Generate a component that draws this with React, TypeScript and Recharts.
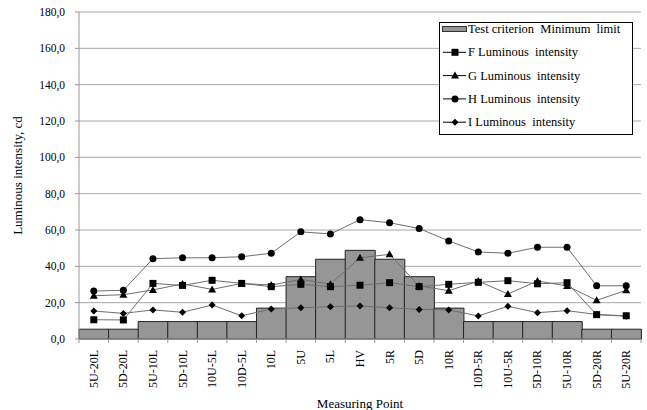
import { ComposedChart, Bar, Line, XAxis, YAxis, CartesianGrid } from 'recharts'

const categories = ['5U-20L', '5D-20L', '5U-10L', '5D-10L', '10U-5L', '10D-5L', '10L', '5U', '5L', 'HV', '5R', '5D', '10R', '10D-5R', '10U-5R', '5D-10R', '5U-10R', '5D-20R', '5U-20R']
const minLimit = [5.4, 5.4, 9.6, 9.6, 9.6, 9.6, 17, 34.3, 43.9, 48.8, 43.9, 34.3, 17, 9.6, 9.6, 9.6, 9.6, 5.4, 5.4]
const fValues = [10.6, 10.5, 30.6, 29.5, 32.3, 30.6, 28.8, 30.1, 28.8, 29.6, 31, 28.8, 30.1, 31.2, 32.1, 30.4, 31, 13.4, 12.8]
const gValues = [23.8, 24.4, 27, 30.3, 27.3, 30.6, 29.7, 32.8, 30.2, 44.7, 46.6, 29.2, 26.6, 31.9, 24.8, 31.9, 29.2, 21.3, 26.8]
const hValues = [26.4, 26.8, 44.2, 44.7, 44.7, 45.3, 47.2, 59, 57.8, 65.7, 64, 60.8, 54, 47.9, 47.2, 50.5, 50.5, 29.3, 29.3]
const iValues = [15.4, 14.1, 16, 14.7, 18.7, 12.8, 16.5, 17.2, 17.8, 18.2, 17.2, 16.3, 16, 12.7, 18, 14.5, 15.6, 13.5, 12.5]
const yTicks = [0, 20, 40, 60, 80, 100, 120, 140, 160, 180]

const data = categories.map((c, i) => ({
  name: c,
  limit: minLimit[i],
  f: fValues[i],
  g: gValues[i],
  h: hValues[i],
  i: iValues[i],
}))

const FONT = '"Liberation Serif", serif'
const LINE = '#6e6e6e'
const PLOT_LEFT = 79
const PLOT_RIGHT = 641
const STEP = (PLOT_RIGHT - PLOT_LEFT) / categories.length

type Kind = 'square' | 'triangle' | 'circle' | 'diamond'

function marker(kind: Kind, cx: number, cy: number, key?: any) {
  if (kind === 'square') return <rect key={key} x={cx - 3.5} y={cy - 3.5} width={7} height={7} fill="#000" />
  if (kind === 'triangle') return <polygon key={key} points={`${cx},${cy - 4} ${cx + 4},${cy + 3} ${cx - 4},${cy + 3}`} fill="#000" />
  if (kind === 'circle') return <circle key={key} cx={cx} cy={cy} r={3.5} fill="#000" />
  return <polygon key={key} points={`${cx},${cy - 3.5} ${cx + 3.5},${cy} ${cx},${cy + 3.5} ${cx - 3.5},${cy}`} fill="#000" />
}

const dotOf = (kind: Kind) => (p: any) => marker(kind, p.cx, p.cy, p.index)

function XTick(props: any) {
  const { x, y, payload, index } = props
  return (
    <g>
      <line x1={x - STEP / 2} y1={y - 8} x2={x - STEP / 2} y2={y - 4} stroke="#999" />
      {index === categories.length - 1 && <line x1={x + STEP / 2} y1={y - 8} x2={x + STEP / 2} y2={y - 4} stroke="#999" />}
      <text transform={`translate(${x + 4},${y + 3}) rotate(-90)`} textAnchor="end" fontSize={12} style={{ fontFamily: FONT }} fill="#000">
        {payload.value}
      </text>
    </g>
  )
}

const legendItems: { label: string; kind: Kind | 'bar' }[] = [
  { label: 'Test criterion  Minimum  limit', kind: 'bar' },
  { label: 'F Luminous  intensity', kind: 'square' },
  { label: 'G Luminous  intensity', kind: 'triangle' },
  { label: 'H Luminous  intensity', kind: 'circle' },
  { label: 'I Luminous  intensity', kind: 'diamond' },
]

function LegendBox() {
  return (
    <svg width={194} height={113} style={{ display: 'block' }}>
      <rect x={0.5} y={0.5} width={193} height={112} fill="#fff" stroke="#000" />
      {legendItems.map((it, k) => {
        const cy = 7 + k * 23.3
        return (
          <g key={it.label}>
            {it.kind === 'bar' ? (
              <rect x={3.5} y={cy - 2.5} width={24} height={5} fill="#969696" stroke="#333" />
            ) : (
              <>
                <line x1={4} y1={cy} x2={27} y2={cy} stroke="#000" />
                {marker(it.kind, 16, cy)}
              </>
            )}
            <text x={29} y={cy + 4} fontSize={12.5} fill="#000" style={{ whiteSpace: 'pre', fontFamily: FONT }}>
              {it.label}
            </text>
          </g>
        )
      })}
    </svg>
  )
}

export default function App() {
  return (
    <div style={{ position: 'absolute', left: 0, top: 0, width: 647, height: 410, background: '#fff', fontFamily: FONT }}>
      <ComposedChart width={647} height={410} data={data} margin={{ top: 12, right: 6, left: 0, bottom: 0 }} barCategoryGap={0} barGap={0} style={{ fontFamily: FONT }}>
        <CartesianGrid vertical={false} stroke="#a6a6a6" />
        <XAxis
          dataKey="name"
          height={71}
          tick={<XTick />}
          tickLine={false}
          axisLine={{ stroke: '#999' }}
          interval={0}
          label={{ value: 'Measuring Point', position: 'insideBottom', offset: 2, fontSize: 13, fill: '#000', style: { fontFamily: FONT } }}
        />
        <YAxis
          width={79}
          domain={[0, 180]}
          ticks={yTicks}
          tickFormatter={(v: number) => v.toFixed(1).replace('.', ',')}
          tick={{ fontSize: 11.5, fill: '#000', style: { fontFamily: FONT } }}
          tickLine={{ stroke: '#999' }}
          tickSize={4}
          tickMargin={10}
          axisLine={{ stroke: '#999' }}
          label={{ value: 'Luminous intensity, cd', angle: -90, position: 'insideLeft', offset: 17, fontSize: 13, fill: '#000', style: { textAnchor: 'middle', fontFamily: FONT } }}
        />
        <Bar dataKey="limit" fill="#969696" stroke="#222" strokeWidth={1} isAnimationActive={false} />
        <Line dataKey="f" stroke={LINE} strokeWidth={1} dot={dotOf('square')} activeDot={false} isAnimationActive={false} />
        <Line dataKey="g" stroke={LINE} strokeWidth={1} dot={dotOf('triangle')} activeDot={false} isAnimationActive={false} />
        <Line dataKey="h" stroke={LINE} strokeWidth={1} dot={dotOf('circle')} activeDot={false} isAnimationActive={false} />
        <Line dataKey="i" stroke={LINE} strokeWidth={1} dot={dotOf('diamond')} activeDot={false} isAnimationActive={false} />
      </ComposedChart>
      <div style={{ position: 'absolute', left: 439, top: 22 }}>
        <LegendBox />
      </div>
    </div>
  )
}
